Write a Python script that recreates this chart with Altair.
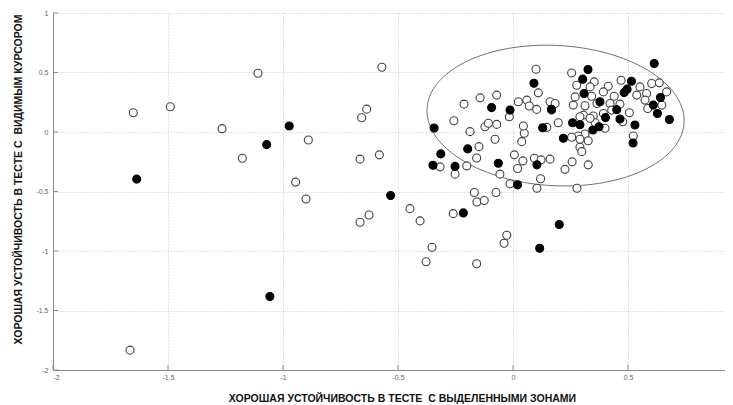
import altair as alt
import pandas as pd
import numpy as np

# hollow markers (x, y)
hollow_x = [-1.665, -1.651, -1.49, -1.265, -1.177, -1.109, -0.89, -0.945, -0.9, -0.57,
            -0.636, -0.658, -0.665, -0.581, -0.626, -0.665, -0.448, -0.404, -0.352, -0.378,
            -0.26, -0.157, -0.125, -0.158, -0.027, -0.039, -0.317, -0.252, -0.201, -0.158,
            -0.148, -0.057, 0.006, 0.043, 0.02, 0.093, 0.122, 0.161, 0.12, 0.104,
            -0.013, 0.226, 0.257, 0.327, 0.278, -0.168, -0.074, -0.257, -0.187, -0.122,
            -0.107, -0.071, -0.213, -0.143, -0.071, -0.016, -0.078, 0.038, 0.049, 0.045,
            0.023, 0.06, 0.071, 0.103, 0.11, 0.1, 0.161, 0.183, 0.168, 0.147,
            0.197, 0.255, 0.277, 0.353, 0.335, 0.414, 0.47, 0.393, 0.44, 0.27,
            0.342, 0.262, 0.313, 0.422, 0.465, 0.538, 0.581, 0.552, 0.603, 0.636,
            0.668, 0.574, 0.647, 0.586, 0.506, 0.429, 0.393, 0.306, 0.349, 0.357,
            0.4, 0.313, 0.523, 0.284, 0.255, 0.291, 0.327, 0.291, 0.299, 0.477,
            0.291, 0.335, 0.365]
hollow_y = [-1.833, 0.162, 0.212, 0.028, -0.22, 0.494, -0.067, -0.421, -0.563, 0.544,
            0.192, 0.12, -0.228, -0.192, -0.697, -0.759, -0.644, -0.747, -0.968, -1.09,
            -0.686, -0.588, -0.575, -1.107, -0.868, -0.935, -0.293, -0.354, -0.285, -0.218,
            -0.123, -0.354, -0.192, -0.243, -0.307, -0.22, -0.234, -0.228, -0.393, -0.473,
            -0.435, -0.314, -0.251, -0.276, -0.473, -0.508, -0.508, 0.095, 0.003, 0.044,
            0.073, 0.064, 0.234, 0.287, 0.31, 0.128, -0.061, -0.081, -0.011, 0.05,
            0.254, 0.268, 0.218, 0.19, 0.329, 0.527, 0.254, 0.24, 0.184, 0.039,
            0.078, 0.496, 0.393, 0.421, 0.379, 0.385, 0.435, 0.337, 0.301, 0.295,
            0.301, 0.226, 0.22, 0.24, 0.234, 0.31, 0.324, 0.379, 0.408, 0.413,
            0.337, 0.268, 0.226, 0.198, 0.162, 0.184, 0.156, 0.142, 0.134, 0.078,
            0.031, -0.017, -0.033, -0.033, -0.044, -0.061, -0.073, -0.128, -0.165, 0.086,
            0.128, 0.115, 0.24]

# filled markers (x, y)
filled_x = [-1.636, -1.071, -0.973, -1.057, -0.532, -0.216, 0.201, 0.116, -0.343, -0.314,
            -0.348, -0.252, -0.197, -0.064, 0.104, 0.02, -0.093, -0.013, 0.129, 0.167,
            0.219, 0.259, 0.291, 0.347, 0.374, 0.309, 0.091, 0.326, 0.303, 0.515,
            0.483, 0.496, 0.614, 0.641, 0.61, 0.628, 0.68, 0.378, 0.451, 0.402,
            0.465, 0.53, 0.522]
filled_y = [-0.396, -0.106, 0.05, -1.383, -0.533, -0.68, -0.778, -0.977, 0.033, -0.184,
            -0.28, -0.289, -0.142, -0.262, -0.276, -0.444, 0.205, 0.184, 0.036, 0.191,
            -0.053, 0.078, 0.061, 0.017, 0.044, 0.324, 0.41, 0.525, 0.444, 0.427,
            0.331, 0.36, 0.575, 0.29, 0.226, 0.156, 0.105, 0.254, 0.188, 0.121,
            0.109, 0.059, -0.092]

# ellipse annotation parameters (data units)
ell_cx, ell_cy, ell_rx, ell_ry, ell_shear = 0.185, 0.138, 0.559, 0.59, 0.042

x_ticks = [-2, -1.5, -1, -0.5, 0, 0.5]
y_ticks = [-2, -1.5, -1, -0.5, 0, 0.5, 1]

x_title = "ХОРОШАЯ УСТОЙЧИВОСТЬ В ТЕСТЕ\u00a0 С ВЫДЕЛЕННЫМИ ЗОНАМИ"
y_title = "ХОРОШАЯ УСТОЙЧИВОСТЬ В ТЕСТЕ С\u00a0 ВИДИМЫМ КУРСОРОМ"

XMIN, XMAX = -2, 0.9217
YMIN, YMAX = -2, 1

pts = pd.concat([
    pd.DataFrame({"x": hollow_x, "y": hollow_y, "kind": "hollow"}),
    pd.DataFrame({"x": filled_x, "y": filled_y, "kind": "filled"}),
], ignore_index=True)

t = np.linspace(0, 2 * np.pi, 181)
ell = pd.DataFrame({
    "x": ell_cx + ell_rx * np.cos(t),
    "y": ell_cy + ell_ry * np.sin(t) - ell_shear * np.cos(t),
    "i": np.arange(len(t)),
})

xs = alt.Scale(domain=[XMIN, XMAX], nice=False, zero=False)
ys = alt.Scale(domain=[YMIN, YMAX], nice=False, zero=False)

label_font = "Liberation Sans"

x_axis = alt.Axis(
    values=x_ticks, title=x_title, grid=True, gridColor="#c4c4c4", gridDash=[1, 2],
    gridWidth=1, ticks=False, domainColor="#8a8a8a", labelFont=label_font, labelFontSize=7,
    labelColor="#666666", labelPadding=3, labelExpr="'' + datum.value",
    titleFont=label_font, titleFontSize=10.5, titleFontWeight="bold", titleColor="#111111",
    titleX=349, titleY=33, titleBaseline="bottom", titleAnchor="start", titleAlign="center",
)
y_axis = alt.Axis(
    values=y_ticks, title=y_title, grid=True, gridColor="#c4c4c4", gridDash=[1, 2],
    gridWidth=1, ticks=False, domainColor="#8a8a8a", labelFont=label_font, labelFontSize=7,
    labelColor="#666666", labelPadding=5, labelExpr="'' + datum.value",
    titleFont=label_font, titleFontSize=10.5, titleFontWeight="bold", titleColor="#111111",
    titleX=-35, titleY=166, titleAngle=270, titleAlign="center", titleBaseline="middle",
)

base_pts = alt.Chart(pts).mark_point(
    shape="circle", size=64, filled=True, strokeWidth=1.1, opacity=1, fillOpacity=1
).encode(
    x=alt.X("x:Q", scale=xs, axis=x_axis),
    y=alt.Y("y:Q", scale=ys, axis=y_axis),
    fill=alt.Fill("kind:N", scale=alt.Scale(domain=["hollow", "filled"], range=["#ffffff", "#000000"]), legend=None),
    stroke=alt.Stroke("kind:N", scale=alt.Scale(domain=["hollow", "filled"], range=["#404040", "#000000"]), legend=None),
)

ellipse = alt.Chart(ell).mark_line(color="#707070", strokeWidth=1).encode(
    x=alt.X("x:Q", scale=xs),
    y=alt.Y("y:Q", scale=ys),
    order="i:Q",
)

xt = pd.DataFrame({"x": x_ticks, "y": [YMIN] * len(x_ticks), "y2": [YMIN + 0.042] * len(x_ticks)})
yt = pd.DataFrame({"y": y_ticks, "x": [XMIN] * len(y_ticks), "x2": [XMIN + 0.022] * len(y_ticks)})

xtick_layer = alt.Chart(xt).mark_rule(color="#8a8a8a", strokeWidth=1).encode(
    x=alt.X("x:Q", scale=xs), y=alt.Y("y:Q", scale=ys), y2="y2:Q"
)
ytick_layer = alt.Chart(yt).mark_rule(color="#8a8a8a", strokeWidth=1).encode(
    y=alt.Y("y:Q", scale=ys), x=alt.X("x:Q", scale=xs), x2="x2:Q"
)

chart = alt.layer(xtick_layer, ytick_layer, ellipse, base_pts).properties(
    width=672, height=357,
    padding={"left": 45, "top": 5, "right": 0, "bottom": 35},
    autosize=alt.AutoSizeParams(type="none"),
    background="#ffffff",
).configure_view(strokeWidth=0)

chart.save("out.html", embed_options={"renderer": "svg", "actions": False})
